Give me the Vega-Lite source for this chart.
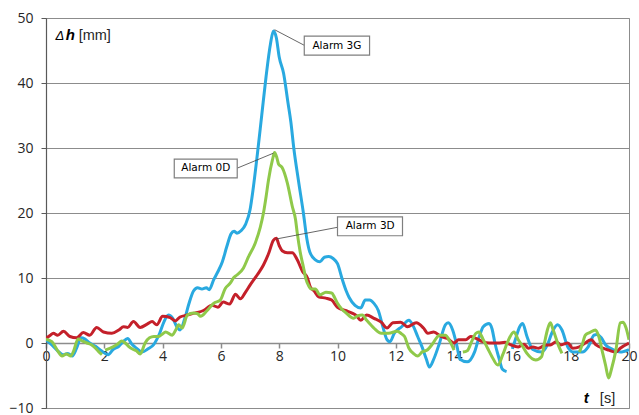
{
  "$schema": "https://vega.github.io/schema/vega-lite/v6.json",
  "width": 583,
  "height": 390,
  "autosize": "none",
  "padding": {"left": 46, "top": 18, "right": 10, "bottom": 7},
  "background": "white",
  "config": {
    "view": {"stroke": "#8c8c8c", "strokeWidth": 1},
    "font": "Open Sans"
  },
  "datasets": {
    "series": [
      {"s":"3G","seg":"3G-a","t":0,"v":0.5},{"s":"3G","seg":"3G-a","t":0.2,"v":-0.3},{"s":"3G","seg":"3G-a","t":0.4,"v":-1.2},{"s":"3G","seg":"3G-a","t":0.58,"v":-1.8},{"s":"3G","seg":"3G-a","t":0.75,"v":-1.6},{"s":"3G","seg":"3G-a","t":0.9,"v":-2.0},{"s":"3G","seg":"3G-a","t":1.05,"v":-0.8},{"s":"3G","seg":"3G-a","t":1.2,"v":0.8},{"s":"3G","seg":"3G-a","t":1.34,"v":0.6},{"s":"3G","seg":"3G-a","t":1.5,"v":0.0},{"s":"3G","seg":"3G-a","t":1.7,"v":-0.5},{"s":"3G","seg":"3G-a","t":1.9,"v":-1.2},{"s":"3G","seg":"3G-a","t":2.13,"v":-1.8},{"s":"3G","seg":"3G-a","t":2.3,"v":-1.0},{"s":"3G","seg":"3G-a","t":2.5,"v":-0.5},{"s":"3G","seg":"3G-a","t":2.65,"v":0.2},{"s":"3G","seg":"3G-a","t":2.8,"v":0.7},{"s":"3G","seg":"3G-a","t":2.95,"v":-0.2},{"s":"3G","seg":"3G-a","t":3.1,"v":-0.8},{"s":"3G","seg":"3G-a","t":3.3,"v":-1.4},{"s":"3G","seg":"3G-a","t":3.5,"v":-0.9},{"s":"3G","seg":"3G-a","t":3.7,"v":-0.2},{"s":"3G","seg":"3G-a","t":3.9,"v":1.5},{"s":"3G","seg":"3G-a","t":4.05,"v":3.3},{"s":"3G","seg":"3G-a","t":4.2,"v":4.3},{"s":"3G","seg":"3G-a","t":4.35,"v":3.8},{"s":"3G","seg":"3G-a","t":4.5,"v":2.4},{"s":"3G","seg":"3G-a","t":4.6,"v":2.0},{"s":"3G","seg":"3G-a","t":4.75,"v":3.6},{"s":"3G","seg":"3G-a","t":4.9,"v":6.0},{"s":"3G","seg":"3G-a","t":5.06,"v":8.0},{"s":"3G","seg":"3G-a","t":5.2,"v":8.5},{"s":"3G","seg":"3G-a","t":5.35,"v":8.3},{"s":"3G","seg":"3G-a","t":5.5,"v":8.5},{"s":"3G","seg":"3G-a","t":5.6,"v":8.2},{"s":"3G","seg":"3G-a","t":5.75,"v":9.7},{"s":"3G","seg":"3G-a","t":5.9,"v":11.0},{"s":"3G","seg":"3G-a","t":6.05,"v":12.5},{"s":"3G","seg":"3G-a","t":6.2,"v":14.8},{"s":"3G","seg":"3G-a","t":6.35,"v":16.8},{"s":"3G","seg":"3G-a","t":6.45,"v":17.2},{"s":"3G","seg":"3G-a","t":6.55,"v":16.9},{"s":"3G","seg":"3G-a","t":6.7,"v":17.3},{"s":"3G","seg":"3G-a","t":6.85,"v":18.3},{"s":"3G","seg":"3G-a","t":7.0,"v":20.5},{"s":"3G","seg":"3G-a","t":7.1,"v":23.5},{"s":"3G","seg":"3G-a","t":7.25,"v":29},{"s":"3G","seg":"3G-a","t":7.4,"v":35},{"s":"3G","seg":"3G-a","t":7.55,"v":41},{"s":"3G","seg":"3G-a","t":7.7,"v":46},{"s":"3G","seg":"3G-a","t":7.8,"v":48.0},{"s":"3G","seg":"3G-a","t":7.9,"v":47},{"s":"3G","seg":"3G-a","t":8.0,"v":44},{"s":"3G","seg":"3G-a","t":8.15,"v":41.5},{"s":"3G","seg":"3G-a","t":8.3,"v":37},{"s":"3G","seg":"3G-a","t":8.4,"v":34},{"s":"3G","seg":"3G-a","t":8.5,"v":30},{"s":"3G","seg":"3G-a","t":8.66,"v":25},{"s":"3G","seg":"3G-a","t":8.83,"v":20},{"s":"3G","seg":"3G-a","t":8.95,"v":16},{"s":"3G","seg":"3G-a","t":9.05,"v":14},{"s":"3G","seg":"3G-a","t":9.24,"v":12.8},{"s":"3G","seg":"3G-a","t":9.4,"v":12.5},{"s":"3G","seg":"3G-a","t":9.55,"v":13.2},{"s":"3G","seg":"3G-a","t":9.7,"v":13.3},{"s":"3G","seg":"3G-a","t":9.85,"v":13},{"s":"3G","seg":"3G-a","t":10.0,"v":12.2},{"s":"3G","seg":"3G-a","t":10.17,"v":9.7},{"s":"3G","seg":"3G-a","t":10.3,"v":8},{"s":"3G","seg":"3G-a","t":10.4,"v":7},{"s":"3G","seg":"3G-a","t":10.6,"v":5.8},{"s":"3G","seg":"3G-a","t":10.8,"v":5.4},{"s":"3G","seg":"3G-a","t":10.95,"v":6.6},{"s":"3G","seg":"3G-a","t":11.1,"v":6.6},{"s":"3G","seg":"3G-a","t":11.25,"v":6.1},{"s":"3G","seg":"3G-a","t":11.4,"v":5.0},{"s":"3G","seg":"3G-a","t":11.55,"v":2.6},{"s":"3G","seg":"3G-a","t":11.7,"v":0.5},{"s":"3G","seg":"3G-a","t":11.8,"v":0.2},{"s":"3G","seg":"3G-a","t":11.95,"v":1.5},{"s":"3G","seg":"3G-a","t":12.2,"v":2.5},{"s":"3G","seg":"3G-a","t":12.45,"v":3.5},{"s":"3G","seg":"3G-a","t":12.6,"v":2.6},{"s":"3G","seg":"3G-a","t":12.75,"v":1.0},{"s":"3G","seg":"3G-a","t":12.9,"v":-0.6},{"s":"3G","seg":"3G-a","t":13.05,"v":-2.5},{"s":"3G","seg":"3G-a","t":13.15,"v":-3.7},{"s":"3G","seg":"3G-a","t":13.3,"v":-2.5},{"s":"3G","seg":"3G-a","t":13.5,"v":0},{"s":"3G","seg":"3G-a","t":13.7,"v":2.8},{"s":"3G","seg":"3G-a","t":13.8,"v":3.1},{"s":"3G","seg":"3G-a","t":13.95,"v":2.0},{"s":"3G","seg":"3G-a","t":14.1,"v":-0.5},{"s":"3G","seg":"3G-a","t":14.2,"v":-2.5},{"s":"3G","seg":"3G-a","t":14.45,"v":-2.9},{"s":"3G","seg":"3G-a","t":14.7,"v":-1.4},{"s":"3G","seg":"3G-a","t":14.85,"v":0.8},{"s":"3G","seg":"3G-a","t":15.0,"v":2.5},{"s":"3G","seg":"3G-a","t":15.2,"v":3.0},{"s":"3G","seg":"3G-a","t":15.3,"v":2.2},{"s":"3G","seg":"3G-a","t":15.4,"v":0},{"s":"3G","seg":"3G-a","t":15.55,"v":-2.5},{"s":"3G","seg":"3G-a","t":15.65,"v":-4.0},{"s":"3G","seg":"3G-a","t":15.8,"v":-4.4},
      {"s":"3G","seg":"3G-b","t":16.0,"v":-0.9},{"s":"3G","seg":"3G-b","t":16.1,"v":0.5},{"s":"3G","seg":"3G-b","t":16.25,"v":2.5},{"s":"3G","seg":"3G-b","t":16.35,"v":3.0},{"s":"3G","seg":"3G-b","t":16.5,"v":1.0},{"s":"3G","seg":"3G-b","t":16.7,"v":-1.0},{"s":"3G","seg":"3G-b","t":17.0,"v":-1.4},{"s":"3G","seg":"3G-b","t":17.2,"v":-0.3},{"s":"3G","seg":"3G-b","t":17.35,"v":1.5},{"s":"3G","seg":"3G-b","t":17.55,"v":2.8},{"s":"3G","seg":"3G-b","t":17.7,"v":2.0},{"s":"3G","seg":"3G-b","t":17.9,"v":-0.6},{"s":"3G","seg":"3G-b","t":18.1,"v":-1.4},{"s":"3G","seg":"3G-b","t":18.4,"v":-1.4},{"s":"3G","seg":"3G-b","t":18.6,"v":-0.6},{"s":"3G","seg":"3G-b","t":18.8,"v":1.2},{"s":"3G","seg":"3G-b","t":18.9,"v":1.3},{"s":"3G","seg":"3G-b","t":19.05,"v":0.8},{"s":"3G","seg":"3G-b","t":19.2,"v":-0.3},{"s":"3G","seg":"3G-b","t":19.45,"v":-1.0},{"s":"3G","seg":"3G-b","t":19.7,"v":-1.4},{"s":"3G","seg":"3G-b","t":20.0,"v":-1.0},

      {"s":"3D","seg":"3D-a","t":0,"v":0.7},{"s":"3D","seg":"3D-a","t":0.15,"v":1.2},{"s":"3D","seg":"3D-a","t":0.25,"v":1.5},{"s":"3D","seg":"3D-a","t":0.4,"v":1.2},{"s":"3D","seg":"3D-a","t":0.6,"v":1.8},{"s":"3D","seg":"3D-a","t":0.82,"v":1.0},{"s":"3D","seg":"3D-a","t":1.05,"v":0.8},{"s":"3D","seg":"3D-a","t":1.28,"v":1.6},{"s":"3D","seg":"3D-a","t":1.5,"v":1.2},{"s":"3D","seg":"3D-a","t":1.74,"v":2.4},{"s":"3D","seg":"3D-a","t":1.97,"v":1.7},{"s":"3D","seg":"3D-a","t":2.26,"v":1.5},{"s":"3D","seg":"3D-a","t":2.5,"v":2.0},{"s":"3D","seg":"3D-a","t":2.66,"v":2.5},{"s":"3D","seg":"3D-a","t":2.8,"v":2.4},{"s":"3D","seg":"3D-a","t":3.0,"v":3.3},{"s":"3D","seg":"3D-a","t":3.23,"v":2.4},{"s":"3D","seg":"3D-a","t":3.47,"v":2.9},{"s":"3D","seg":"3D-a","t":3.64,"v":3.3},{"s":"3D","seg":"3D-a","t":3.8,"v":2.8},{"s":"3D","seg":"3D-a","t":4.0,"v":4.1},{"s":"3D","seg":"3D-a","t":4.26,"v":3.9},{"s":"3D","seg":"3D-a","t":4.43,"v":3.4},{"s":"3D","seg":"3D-a","t":4.6,"v":4.0},{"s":"3D","seg":"3D-a","t":4.85,"v":4.3},{"s":"3D","seg":"3D-a","t":5.0,"v":4.5},{"s":"3D","seg":"3D-a","t":5.2,"v":4.7},{"s":"3D","seg":"3D-a","t":5.4,"v":5.0},{"s":"3D","seg":"3D-a","t":5.7,"v":5.8},{"s":"3D","seg":"3D-a","t":5.9,"v":5.5},{"s":"3D","seg":"3D-a","t":6.08,"v":6.3},{"s":"3D","seg":"3D-a","t":6.3,"v":6.0},{"s":"3D","seg":"3D-a","t":6.5,"v":7.5},{"s":"3D","seg":"3D-a","t":6.67,"v":6.8},{"s":"3D","seg":"3D-a","t":6.84,"v":7.8},{"s":"3D","seg":"3D-a","t":7.0,"v":8.9},{"s":"3D","seg":"3D-a","t":7.25,"v":10.5},{"s":"3D","seg":"3D-a","t":7.46,"v":12.0},{"s":"3D","seg":"3D-a","t":7.64,"v":13.8},{"s":"3D","seg":"3D-a","t":7.8,"v":15.8},{"s":"3D","seg":"3D-a","t":7.9,"v":16.1},{"s":"3D","seg":"3D-a","t":8.0,"v":15.0},{"s":"3D","seg":"3D-a","t":8.1,"v":14.2},{"s":"3D","seg":"3D-a","t":8.28,"v":13.9},{"s":"3D","seg":"3D-a","t":8.45,"v":13.9},{"s":"3D","seg":"3D-a","t":8.62,"v":12.8},{"s":"3D","seg":"3D-a","t":8.8,"v":11.0},{"s":"3D","seg":"3D-a","t":8.97,"v":10.0},{"s":"3D","seg":"3D-a","t":9.07,"v":8.6},{"s":"3D","seg":"3D-a","t":9.2,"v":8.0},{"s":"3D","seg":"3D-a","t":9.35,"v":7.1},{"s":"3D","seg":"3D-a","t":9.6,"v":6.9},{"s":"3D","seg":"3D-a","t":9.8,"v":6.6},{"s":"3D","seg":"3D-a","t":10.0,"v":5.5},{"s":"3D","seg":"3D-a","t":10.27,"v":5.0},{"s":"3D","seg":"3D-a","t":10.5,"v":4.6},{"s":"3D","seg":"3D-a","t":10.65,"v":4.2},{"s":"3D","seg":"3D-a","t":10.8,"v":3.5},{"s":"3D","seg":"3D-a","t":11.0,"v":4.3},{"s":"3D","seg":"3D-a","t":11.25,"v":3.8},{"s":"3D","seg":"3D-a","t":11.5,"v":3.2},{"s":"3D","seg":"3D-a","t":11.7,"v":2.3},{"s":"3D","seg":"3D-a","t":11.9,"v":3.1},{"s":"3D","seg":"3D-a","t":12.17,"v":3.2},{"s":"3D","seg":"3D-a","t":12.4,"v":2.5},{"s":"3D","seg":"3D-a","t":12.7,"v":3.1},{"s":"3D","seg":"3D-a","t":12.95,"v":2.3},{"s":"3D","seg":"3D-a","t":13.1,"v":1.5},{"s":"3D","seg":"3D-a","t":13.3,"v":1.7},{"s":"3D","seg":"3D-a","t":13.55,"v":1.0},{"s":"3D","seg":"3D-a","t":13.77,"v":0.7},{"s":"3D","seg":"3D-a","t":14.0,"v":0.0},{"s":"3D","seg":"3D-a","t":14.15,"v":0.5},{"s":"3D","seg":"3D-a","t":14.4,"v":0.5},{"s":"3D","seg":"3D-a","t":14.57,"v":1.0},{"s":"3D","seg":"3D-a","t":14.75,"v":0.7},{"s":"3D","seg":"3D-a","t":14.98,"v":0.2},{"s":"3D","seg":"3D-a","t":15.2,"v":0.0},{"s":"3D","seg":"3D-a","t":15.5,"v":0.0},{"s":"3D","seg":"3D-a","t":15.75,"v":0.1},{"s":"3D","seg":"3D-a","t":15.95,"v":-0.3},{"s":"3D","seg":"3D-a","t":16.2,"v":-0.6},{"s":"3D","seg":"3D-a","t":16.4,"v":-0.2},{"s":"3D","seg":"3D-a","t":16.55,"v":-0.8},{"s":"3D","seg":"3D-a","t":16.7,"v":-0.6},{"s":"3D","seg":"3D-a","t":16.9,"v":-0.8},{"s":"3D","seg":"3D-a","t":17.15,"v":-0.3},{"s":"3D","seg":"3D-a","t":17.3,"v":-0.3},{"s":"3D","seg":"3D-a","t":17.5,"v":0.2},{"s":"3D","seg":"3D-a","t":17.66,"v":-0.3},{"s":"3D","seg":"3D-a","t":17.9,"v":0.0},{"s":"3D","seg":"3D-a","t":18.07,"v":-0.8},{"s":"3D","seg":"3D-a","t":18.3,"v":-0.6},{"s":"3D","seg":"3D-a","t":18.5,"v":0.0},{"s":"3D","seg":"3D-a","t":18.7,"v":0.5},{"s":"3D","seg":"3D-a","t":18.87,"v":-0.3},{"s":"3D","seg":"3D-a","t":19.1,"v":-0.8},{"s":"3D","seg":"3D-a","t":19.3,"v":-1.1},{"s":"3D","seg":"3D-a","t":19.55,"v":-1.4},{"s":"3D","seg":"3D-a","t":19.7,"v":-0.8},{"s":"3D","seg":"3D-a","t":20.0,"v":0.0},

      {"s":"0D","seg":"0D-a","t":0,"v":0.6},{"s":"0D","seg":"0D-a","t":0.2,"v":0.2},{"s":"0D","seg":"0D-a","t":0.4,"v":-1.2},{"s":"0D","seg":"0D-a","t":0.55,"v":-2.0},{"s":"0D","seg":"0D-a","t":0.7,"v":-1.7},{"s":"0D","seg":"0D-a","t":0.85,"v":-2.0},{"s":"0D","seg":"0D-a","t":0.95,"v":-1.2},{"s":"0D","seg":"0D-a","t":1.1,"v":0.6},{"s":"0D","seg":"0D-a","t":1.25,"v":0.3},{"s":"0D","seg":"0D-a","t":1.4,"v":0.0},{"s":"0D","seg":"0D-a","t":1.57,"v":-0.3},{"s":"0D","seg":"0D-a","t":1.7,"v":-0.8},{"s":"0D","seg":"0D-a","t":1.8,"v":-1.3},{"s":"0D","seg":"0D-a","t":1.92,"v":-1.8},
      {"s":"0D","seg":"0D-b","t":2.03,"v":-1.1},{"s":"0D","seg":"0D-b","t":2.3,"v":-0.6},{"s":"0D","seg":"0D-b","t":2.45,"v":-0.2},{"s":"0D","seg":"0D-b","t":2.6,"v":0.3},{"s":"0D","seg":"0D-b","t":2.72,"v":0.0},{"s":"0D","seg":"0D-b","t":2.85,"v":-0.6},{"s":"0D","seg":"0D-b","t":3.0,"v":-1.0},{"s":"0D","seg":"0D-b","t":3.1,"v":-1.2},{"s":"0D","seg":"0D-b","t":3.23,"v":-1.7},{"s":"0D","seg":"0D-b","t":3.4,"v":0},{"s":"0D","seg":"0D-b","t":3.55,"v":0.8},{"s":"0D","seg":"0D-b","t":3.7,"v":1.0},{"s":"0D","seg":"0D-b","t":3.86,"v":1.0},{"s":"0D","seg":"0D-b","t":4.0,"v":1.4},{"s":"0D","seg":"0D-b","t":4.1,"v":1.7},{"s":"0D","seg":"0D-b","t":4.33,"v":1.2},{"s":"0D","seg":"0D-b","t":4.45,"v":2.0},{"s":"0D","seg":"0D-b","t":4.55,"v":2.8},{"s":"0D","seg":"0D-b","t":4.67,"v":2.3},{"s":"0D","seg":"0D-b","t":4.85,"v":4.3},{"s":"0D","seg":"0D-b","t":5.06,"v":4.6},{"s":"0D","seg":"0D-b","t":5.2,"v":4.5},{"s":"0D","seg":"0D-b","t":5.3,"v":4.1},{"s":"0D","seg":"0D-b","t":5.53,"v":5.0},{"s":"0D","seg":"0D-b","t":5.75,"v":6.1},{"s":"0D","seg":"0D-b","t":5.98,"v":6.6},{"s":"0D","seg":"0D-b","t":6.15,"v":8.4},{"s":"0D","seg":"0D-b","t":6.32,"v":9.2},{"s":"0D","seg":"0D-b","t":6.45,"v":10.1},{"s":"0D","seg":"0D-b","t":6.56,"v":10.5},{"s":"0D","seg":"0D-b","t":6.77,"v":11.5},{"s":"0D","seg":"0D-b","t":6.94,"v":13.2},{"s":"0D","seg":"0D-b","t":7.18,"v":15.4},{"s":"0D","seg":"0D-b","t":7.35,"v":17.8},{"s":"0D","seg":"0D-b","t":7.46,"v":20.0},{"s":"0D","seg":"0D-b","t":7.55,"v":22.5},{"s":"0D","seg":"0D-b","t":7.63,"v":25},{"s":"0D","seg":"0D-b","t":7.77,"v":28.2},{"s":"0D","seg":"0D-b","t":7.84,"v":29.3},{"s":"0D","seg":"0D-b","t":7.92,"v":28.5},{"s":"0D","seg":"0D-b","t":7.98,"v":27.5},{"s":"0D","seg":"0D-b","t":8.1,"v":27.0},{"s":"0D","seg":"0D-b","t":8.28,"v":24.6},{"s":"0D","seg":"0D-b","t":8.45,"v":21},{"s":"0D","seg":"0D-b","t":8.56,"v":19},{"s":"0D","seg":"0D-b","t":8.62,"v":16.9},{"s":"0D","seg":"0D-b","t":8.72,"v":14},{"s":"0D","seg":"0D-b","t":8.83,"v":11.7},{"s":"0D","seg":"0D-b","t":8.92,"v":9.8},{"s":"0D","seg":"0D-b","t":9.0,"v":8.9},{"s":"0D","seg":"0D-b","t":9.1,"v":8.3},{"s":"0D","seg":"0D-b","t":9.24,"v":8.3},{"s":"0D","seg":"0D-b","t":9.4,"v":7.4},{"s":"0D","seg":"0D-b","t":9.6,"v":7.8},{"s":"0D","seg":"0D-b","t":9.8,"v":7.7},{"s":"0D","seg":"0D-b","t":9.9,"v":7.0},{"s":"0D","seg":"0D-b","t":10.0,"v":6.1},{"s":"0D","seg":"0D-b","t":10.15,"v":5.2},{"s":"0D","seg":"0D-b","t":10.3,"v":4.6},{"s":"0D","seg":"0D-b","t":10.55,"v":3.8},{"s":"0D","seg":"0D-b","t":10.7,"v":4.2},{"s":"0D","seg":"0D-b","t":10.85,"v":4.3},{"s":"0D","seg":"0D-b","t":11.0,"v":3.5},{"s":"0D","seg":"0D-b","t":11.25,"v":2.3},{"s":"0D","seg":"0D-b","t":11.5,"v":1.5},{"s":"0D","seg":"0D-b","t":11.75,"v":1.5},{"s":"0D","seg":"0D-b","t":12.05,"v":1.8},{"s":"0D","seg":"0D-b","t":12.2,"v":1.4},{"s":"0D","seg":"0D-b","t":12.3,"v":1.0},{"s":"0D","seg":"0D-b","t":12.45,"v":-0.8},{"s":"0D","seg":"0D-b","t":12.6,"v":-1.6},{"s":"0D","seg":"0D-b","t":12.75,"v":-2.0},{"s":"0D","seg":"0D-b","t":12.9,"v":-1.4},{"s":"0D","seg":"0D-b","t":13.1,"v":-1.0},{"s":"0D","seg":"0D-b","t":13.25,"v":-0.2},{"s":"0D","seg":"0D-b","t":13.5,"v":1.2},{"s":"0D","seg":"0D-b","t":13.7,"v":1.2},{"s":"0D","seg":"0D-b","t":13.85,"v":0.3},{"s":"0D","seg":"0D-b","t":14.0,"v":-1.1},
      {"s":"0D","seg":"0D-c","t":14.3,"v":-1.4},{"s":"0D","seg":"0D-c","t":14.45,"v":-1.2},{"s":"0D","seg":"0D-c","t":14.6,"v":0.2},{"s":"0D","seg":"0D-c","t":14.75,"v":1.5},{"s":"0D","seg":"0D-c","t":14.85,"v":1.7},{"s":"0D","seg":"0D-c","t":15.0,"v":0.5},{"s":"0D","seg":"0D-c","t":15.15,"v":-0.8},{"s":"0D","seg":"0D-c","t":15.3,"v":-2.1},{"s":"0D","seg":"0D-c","t":15.5,"v":-3.4},{"s":"0D","seg":"0D-c","t":15.67,"v":-1.8},{"s":"0D","seg":"0D-c","t":15.84,"v":0.2},{"s":"0D","seg":"0D-c","t":16.05,"v":1.7},{"s":"0D","seg":"0D-c","t":16.2,"v":0.5},{"s":"0D","seg":"0D-c","t":16.35,"v":-0.5},{"s":"0D","seg":"0D-c","t":16.5,"v":-1.6},{"s":"0D","seg":"0D-c","t":16.8,"v":-2.6},{"s":"0D","seg":"0D-c","t":17.0,"v":-2.1},{"s":"0D","seg":"0D-c","t":17.1,"v":0},{"s":"0D","seg":"0D-c","t":17.2,"v":2.0},{"s":"0D","seg":"0D-c","t":17.3,"v":3.1},{"s":"0D","seg":"0D-c","t":17.4,"v":2.0},{"s":"0D","seg":"0D-c","t":17.6,"v":-0.6},{"s":"0D","seg":"0D-c","t":17.7,"v":-1.6},
      {"s":"0D","seg":"0D-d","t":18.3,"v":-1.4},{"s":"0D","seg":"0D-d","t":18.4,"v":-0.2},{"s":"0D","seg":"0D-d","t":18.5,"v":1.2},{"s":"0D","seg":"0D-d","t":18.65,"v":1.6},{"s":"0D","seg":"0D-d","t":18.85,"v":2.0},{"s":"0D","seg":"0D-d","t":18.95,"v":1.2},{"s":"0D","seg":"0D-d","t":19.1,"v":-1.6},{"s":"0D","seg":"0D-d","t":19.2,"v":-3.5},{"s":"0D","seg":"0D-d","t":19.3,"v":-5.4},{"s":"0D","seg":"0D-d","t":19.4,"v":-4.0},{"s":"0D","seg":"0D-d","t":19.55,"v":-1.1},{"s":"0D","seg":"0D-d","t":19.7,"v":3.1},{"s":"0D","seg":"0D-d","t":19.8,"v":3.2},{"s":"0D","seg":"0D-d","t":19.9,"v":2.3},{"s":"0D","seg":"0D-d","t":20.0,"v":0.5}
    ],
    "callouts": [
      {"label":"Alarm 3G","x1":8.86,"x2":11.1,"y1":44.3,"y2":47.2,"tx":9.98,"ty":45.75,"px":7.84,"py":48.2,"lx":8.86,"ly":45.8},
      {"label":"Alarm 0D","x1":4.4,"x2":6.56,"y1":25.4,"y2":28.3,"tx":5.48,"ty":26.85,"px":7.8,"py":29.2,"lx":6.56,"ly":26.9},
      {"label":"Alarm 3D","x1":10.0,"x2":12.23,"y1":16.5,"y2":19.4,"tx":11.12,"ty":17.95,"px":7.9,"py":16.0,"lx":10.0,"ly":17.8}
    ]
  },
  "layer": [
    {
      "data": {"name": "series"},
      "mark": {"type": "line", "strokeWidth": 3, "interpolate": "monotone", "clip": true},
      "encoding": {
        "x": {"field": "t", "type": "quantitative",
          "scale": {"domain": [0, 20], "nice": false},
          "axis": {"orient": "bottom", "offset": -65, "values": [0,2,4,6,8,10,12,14,16,18,20], "title": null, "grid": false,
            "domainColor": "#8c8c8c", "domainWidth": 1.5, "tickColor": "#8c8c8c", "tickSize": 5, "tickWidth": 1.5,
            "labelFont": "Open Sans", "labelFontSize": 14, "labelColor": "#262626", "labelPadding": 1, "labelFlush": false, "labelOverlap": false, "labelBound": false}},
        "y": {"field": "v", "type": "quantitative",
          "scale": {"domain": [-10, 50], "nice": false, "zero": false},
          "axis": {"values": [-10,0,10,20,30,40,50], "title": null, "grid": true, "gridColor": "#8c8c8c", "gridWidth": 1.2,
            "domainColor": "#595959", "domainWidth": 1.2, "tickColor": "#595959", "tickSize": 5,
            "labelFont": "Open Sans", "labelFontSize": 14, "labelColor": "#262626", "labelPadding": 8, "labelOverlap": false, "labelBound": false}},
        "color": {"field": "s", "type": "nominal", "legend": null,
          "scale": {"domain": ["3G", "3D", "0D"], "range": ["#29a9e0", "#c4202a", "#8fc94a"]}},
        "detail": {"field": "seg", "type": "nominal"}
      }
    },
    {
      "data": {"name": "callouts"},
      "mark": {"type": "rule", "color": "#404040", "strokeWidth": 0.8},
      "encoding": {
        "x": {"field": "px", "type": "quantitative"},
        "y": {"field": "py", "type": "quantitative"},
        "x2": {"field": "lx"},
        "y2": {"field": "ly"}
      }
    },
    {
      "data": {"name": "callouts"},
      "mark": {"type": "rect", "fill": "white", "stroke": "#7f7f7f", "strokeWidth": 1.2},
      "encoding": {
        "x": {"field": "x1", "type": "quantitative"},
        "x2": {"field": "x2"},
        "y": {"field": "y1", "type": "quantitative"},
        "y2": {"field": "y2"}
      }
    },
    {
      "data": {"name": "callouts"},
      "mark": {"type": "text", "font": "DejaVu Sans", "fontSize": 10.5, "color": "#000000", "align": "center", "baseline": "middle"},
      "encoding": {
        "x": {"field": "tx", "type": "quantitative"},
        "y": {"field": "ty", "type": "quantitative"},
        "text": {"field": "label"}
      }
    },
    {
      "data": {"values": [{"txt": "Δ", "t": 0.33, "v": 46.6}]},
      "mark": {"type": "text", "font": "Liberation Sans", "fontSize": 13, "fontStyle": "italic", "color": "#000000", "align": "left", "baseline": "alphabetic"},
      "encoding": {
        "x": {"field": "t", "type": "quantitative"},
        "y": {"field": "v", "type": "quantitative"},
        "text": {"field": "txt"}
      }
    },
    {
      "data": {"values": [{"txt": "h", "t": 0.68, "v": 46.6}, {"txt": "t", "t": 18.45, "v": -9.2}]},
      "mark": {"type": "text", "font": "Liberation Sans", "fontSize": 15, "fontStyle": "italic", "fontWeight": "bold", "color": "#000000", "align": "left", "baseline": "alphabetic"},
      "encoding": {
        "x": {"field": "t", "type": "quantitative"},
        "y": {"field": "v", "type": "quantitative"},
        "text": {"field": "txt"}
      }
    },
    {
      "data": {"values": [{"txt": "[mm]", "t": 1.12, "v": 46.6}, {"txt": "[s]", "t": 19.0, "v": -9.2}]},
      "mark": {"type": "text", "font": "Liberation Sans", "fontSize": 14.5, "color": "#262626", "align": "left", "baseline": "alphabetic"},
      "encoding": {
        "x": {"field": "t", "type": "quantitative"},
        "y": {"field": "v", "type": "quantitative"},
        "text": {"field": "txt"}
      }
    }
  ]
}
